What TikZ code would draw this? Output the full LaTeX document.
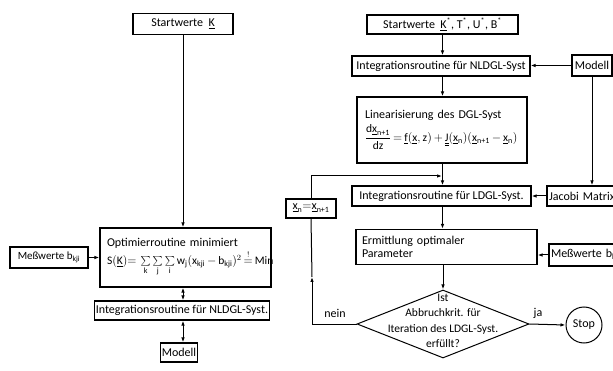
\documentclass[tikz,border=0pt]{standalone}
\usepackage{amsmath}
\usepackage{fontspec}
\setmainfont{Carlito}
\usetikzlibrary{shapes.geometric,arrows.meta,calc}
\newcommand{\tx}[1]{\text{#1}}
\newcommand{\ux}{\underline{\text{x}}}
\newcommand{\smsum}{\mathop{\vcenter{\hbox{\scalebox{0.8}{$\sum$}}}}\limits}
\begin{document}
\begin{tikzpicture}[x=1pt,y=-1pt,
  box/.style={draw,line width=1.1pt,inner sep=2pt,font=\fontsize{12}{13}\selectfont},
  arr/.style={-{Latex[length=5pt,width=3.5pt]},line width=1pt},
  darr/.style={{Latex[length=5pt,width=3.5pt]}-{Latex[length=5pt,width=3.5pt]},line width=1pt},
  ln/.style={line width=1pt},
  lbl/.style={font=\fontsize{12}{13}\selectfont}]
\fill[white] (0,0) rectangle (613,371);
\clip (0,0) rectangle (613,371);
% ---------- left column ----------
\node[box,minimum width=100,minimum height=21] (sL) at (183,24) {Startwerte\ \ \underline{K}};
\node[box,minimum width=171,minimum height=59,text width=165,inner xsep=3,align=left] (opt) at (185.5,257.5)
  {\hspace*{4pt}Optimierroutine minimiert\\[1pt]
   \hspace*{4pt}{\fontsize{11.5}{12}\selectfont$\tx{S}(\underline{\tx{K}}){=}\,\smsum_{\tx{k}}\smsum_{\tx{j}}\smsum_{\tx{i}}\tx{w}_{\tx{j}}(\tx{x}_{\tx{kji}}\,{-}\,\tx{b}_{\tx{kji}})^2\,{\overset{!}{=}}\,\tx{Min}$}};
\node[box,minimum width=78,minimum height=21,inner xsep=1pt,font=\fontsize{11}{12}\selectfont] (mwL) at (49,257.5) {Meßwerte b\textsubscript{kji}};
\node[box,minimum width=172,minimum height=19,inner xsep=1pt] (nlL) at (182,310.5) {Integrationsroutine für NLDGL-Syst.};
\node[box,minimum width=34,minimum height=19,inner xsep=1pt] (modL) at (179,352.5) {Modell};
% ---------- right column ----------
\node[box,minimum width=151,minimum height=19] (sR) at (442.5,24.5) {Startwerte\ \ \underline{K}\textsuperscript{*}, T\textsuperscript{*}, U\textsuperscript{*}, B\textsuperscript{*}};
\node[box,minimum width=178,minimum height=20,inner xsep=1pt] (nlR) at (441,66) {Integrationsroutine für NLDGL-Syst};
\node[box,minimum width=40,minimum height=21,inner xsep=1pt] (modR) at (592,65.5) {Modell};
\node[box,minimum width=170,minimum height=66,text width=164,inner xsep=3,align=left] (lin) at (442,130)
  {\hspace*{5pt}Linearisierung des DGL-Syst\\[3pt]
   \hspace*{5pt}{\fontsize{11.5}{12}\selectfont$\dfrac{\tx{d}\ux_{\tx{n+1}}}{\tx{dz}}\,{=}\,\underline{\tx{f}}(\ux,\tx{z})\,{+}\,\underline{\underline{\tx{J}}}(\ux_{\tx{n}})(\ux_{\tx{n+1}}\,{-}\,\ux_{\tx{n}})$}};
\node[box,minimum width=179,minimum height=20,inner xsep=1pt] (ldgl) at (441.5,196) {Integrationsroutine für LDGL-Syst.};
\node[box,minimum width=93,minimum height=20,text width=89,inner xsep=2pt,align=left] (jac) at (593.5,196) {Jacobi Matrix};
\node[box,minimum width=50,minimum height=19,inner xsep=1pt] (xn) at (311,208.5) {$\ux_{\tx{n}}{=}\ux_{\tx{n+1}}$};
\node[box,minimum width=181,minimum height=35,text width=169,inner xsep=6,align=left] (erm) at (446.5,247) {Ermittlung optimaler\\Parameter};
\node[box,minimum width=91,minimum height=22,text width=87,inner xsep=2pt,align=left] (mwR) at (594.5,255) {Meßwerte b\textsubscript{kji}};
\node[draw,diamond,ln,minimum width=172,minimum height=68,inner sep=0] (dia) at (443,324) {};
\node[lbl,align=center,inner sep=0,font=\fontsize{11.5}{15.5}\selectfont] (diat) at (443,321) {Ist\\Abbruchkrit. für\\Iteration des LDGL-Syst.\\erfüllt?};
\node[draw,circle,ln,minimum size=36,inner sep=0,lbl] (stop) at (584,325) {Stop};
\node[lbl] (ja) at (538,313) {ja};
\node[lbl] (nein) at (335,313) {nein};
\coordinate (c1) at (312,324);
\coordinate (am) at (312,277);
\coordinate (jn) at (442,176);
% ---------- connectors left ----------
\draw[arr] (sL.south) -- (sL.south |- opt.north);
\draw[arr] (mwL.east) -- (mwL.east -| opt.west);
\draw[darr] (sL.south |- opt.south) -- (sL.south |- nlL.north);
\draw[darr] (sL.south |- nlL.south) -- (sL.south |- modL.north);
% ---------- connectors right ----------
\draw[arr] (sR.south) -- (sR.south |- nlR.north);
\draw[arr] (modR.west) -- (modR.west -| nlR.east);
\draw[arr] (sR.south |- nlR.south) -- (sR.south |- lin.north);
\draw[arr] (sR.south |- lin.south) -- (sR.south |- ldgl.north);
\draw[arr] (modR.south) -- (modR.south |- jac.north);
\draw[arr] (jac.west) -- (jac.west -| ldgl.east);
\draw[arr] (sR.south |- ldgl.south) -- (sR.south |- erm.north);
\draw[arr] (mwR.west) -- (mwR.west -| erm.east);
\draw[arr] (dia.north |- erm.south) -- (dia.north);
\draw[arr] (dia.east) -- (stop.west);
\draw[arr] (dia.west) -- (c1) -- (am);
\draw[ln] (am) -- (xn.south);
\draw[arr] (xn.north) |- (jn);
\end{tikzpicture}
\end{document}
